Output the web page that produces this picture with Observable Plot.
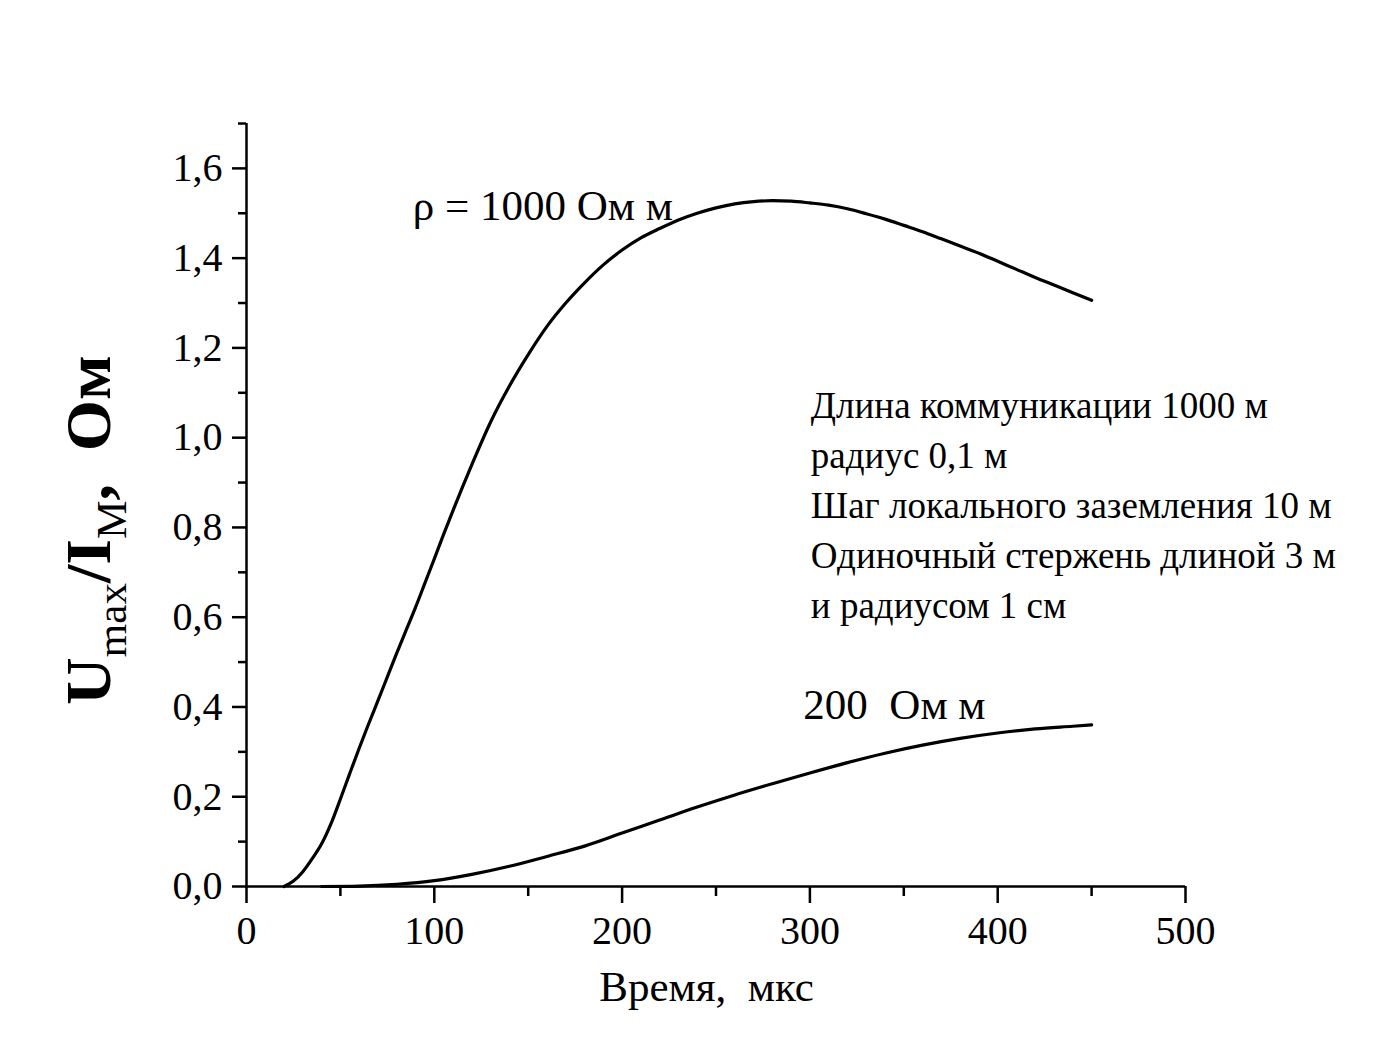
<!DOCTYPE html>
<html>
<head>
<meta charset="utf-8">
<script src="https://cdn.jsdelivr.net/npm/d3@7"></script>
<script src="https://cdn.jsdelivr.net/npm/@observablehq/plot@0.6"></script>
<style>
  html, body { margin: 0; padding: 0; background: #fff; overflow: hidden; }
  #chart svg { display: block; }
</style>
</head>
<body>
<div id="chart"></div>
<script>
// Curve: rho = 1000 Ohm m  (time in µs, U/I in Ohm)
const t1000 = [20, 25, 30, 35, 40, 45, 50, 55, 60, 65, 70, 75, 80, 85, 90, 95, 100, 105, 110, 115, 120, 130, 140, 150, 160, 170, 180, 190, 200, 210, 220, 230, 240, 250, 260, 270, 280, 290, 300, 310, 320, 330, 340, 350, 360, 370, 380, 390, 400, 410, 420, 430, 440, 450];
const v1000 = [0, 0.012, 0.033, 0.062, 0.095, 0.14, 0.195, 0.252, 0.308, 0.362, 0.414, 0.467, 0.52, 0.571, 0.622, 0.676, 0.73, 0.785, 0.838, 0.89, 0.94, 1.035, 1.115, 1.185, 1.248, 1.3, 1.345, 1.385, 1.418, 1.445, 1.466, 1.485, 1.5, 1.512, 1.521, 1.526, 1.528, 1.527, 1.523, 1.518, 1.51, 1.499, 1.487, 1.473, 1.459, 1.443, 1.427, 1.411, 1.393, 1.375, 1.357, 1.34, 1.323, 1.306];
// Curve: rho = 200 Ohm m
const t200 = [40, 60, 80, 100, 120, 140, 160, 180, 200, 220, 240, 260, 280, 300, 320, 340, 360, 380, 400, 420, 440, 450];
const v200 = [0, 0.001, 0.005, 0.013, 0.027, 0.045, 0.067, 0.09, 0.119, 0.148, 0.177, 0.204, 0.229, 0.253, 0.276, 0.297, 0.315, 0.33, 0.342, 0.351, 0.357, 0.36];

const xMajor = [0, 100, 200, 300, 400, 500];
const xMinor = [50, 150, 250, 350, 450];
const yMajor = [0, 0.2, 0.4, 0.6, 0.8, 1.0, 1.2, 1.4, 1.6];
const yMinor = [0.1, 0.3, 0.5, 0.7, 0.9, 1.1, 1.3, 1.5, 1.7];

const label1000 = "ρ = 1000 Ом м";
const label200 = "200  Ом м";
const infoLines = [
  "Длина коммуникации 1000 м",
  "радиус 0,1 м",
  "Шаг локального заземления 10 м",
  "Одиночный стержень длиной 3 м",
  "и радиусом 1 см"
];
const xLabel = "Время,  мкс";

const series1000 = t1000.map((t, i) => ({t, v: v1000[i]}));
const series200 = t200.map((t, i) => ({t, v: v200[i]}));

const font = "'Liberation Serif', 'Times New Roman', serif";
const fmt = d => d.toFixed(1).replace(".", ",");

const chart = Plot.plot({
  width: 1375,
  height: 1062,
  marginLeft: 246,
  marginRight: 190,
  marginTop: 123,
  marginBottom: 176,
  style: {fontFamily: font, fontSize: "40px", color: "#000", background: "#fff"},
  x: {domain: [0, 500]},
  y: {domain: [0, 1.7]},
  marks: [
    Plot.axisX(xMajor, {anchor: "bottom", tickSize: 17, tickPadding: 12, strokeWidth: 2.5, tickFormat: d => String(d), fontSize: 40, label: null}),
    Plot.axisX(xMinor, {anchor: "bottom", tickSize: 10, strokeWidth: 2.5, text: null, label: null}),
    Plot.axisY(yMajor, {anchor: "left", tickSize: 14, tickPadding: 10, strokeWidth: 2.5, tickFormat: fmt, fontSize: 40, label: null}),
    Plot.axisY(yMinor, {anchor: "left", tickSize: 8, strokeWidth: 2.5, text: null, label: null}),
    Plot.ruleX([0], {y1: 0, y2: 1.7, strokeWidth: 2.5}),
    Plot.ruleY([0], {x1: 0, x2: 500, strokeWidth: 2.5}),
    Plot.line(series1000, {x: "t", y: "v", stroke: "#000", strokeWidth: 3.2, curve: "monotone-x"}),
    Plot.line(series200, {x: "t", y: "v", stroke: "#000", strokeWidth: 3.2, curve: "monotone-x"}),
    Plot.text([label1000], {x: 88.5, y: 1.515, text: d => d, textAnchor: "start", fontSize: 43, fill: "#000"}),
    Plot.text([label200], {x: 296.5, y: 0.403, text: d => d, textAnchor: "start", fontSize: 43, fill: "#000"}),
    Plot.text([infoLines.join("\n")], {x: 300.5, y: 0.856, text: d => d, textAnchor: "start", lineAnchor: "middle", lineHeight: 1.35, fontSize: 37, fill: "#000"}),
    Plot.text([xLabel], {x: 245, y: 0, dy: 101, text: d => d, textAnchor: "middle", lineAnchor: "middle", fontSize: 43, fill: "#000"})
  ]
});

document.getElementById("chart").appendChild(chart);

// Y axis title with subscripts
const svg = d3.select(chart);
const g = svg.append("g").attr("transform", "translate(110,530) rotate(-90)");
const yt = g.append("text")
  .attr("text-anchor", "middle")
  .attr("font-family", font)
  .attr("font-size", 64)
  .attr("font-weight", "bold")
  .attr("fill", "#000");
yt.append("tspan").text("U");
yt.append("tspan").attr("font-size", 42).attr("font-weight", "normal").attr("dy", 16).text("max");
yt.append("tspan").attr("dy", -16).text("/I");
yt.append("tspan").attr("font-size", 42).attr("font-weight", "normal").attr("dy", 16).text("M");
yt.append("tspan").attr("dy", -16).text(",  Ом");
// fit the title to the span it covers in the original (about 350 px)
const len = yt.node().getComputedTextLength();
if (len > 0) {
  g.attr("transform", `translate(110,530) rotate(-90) scale(${350 / len},1)`);
}
</script>
</body>
</html>
